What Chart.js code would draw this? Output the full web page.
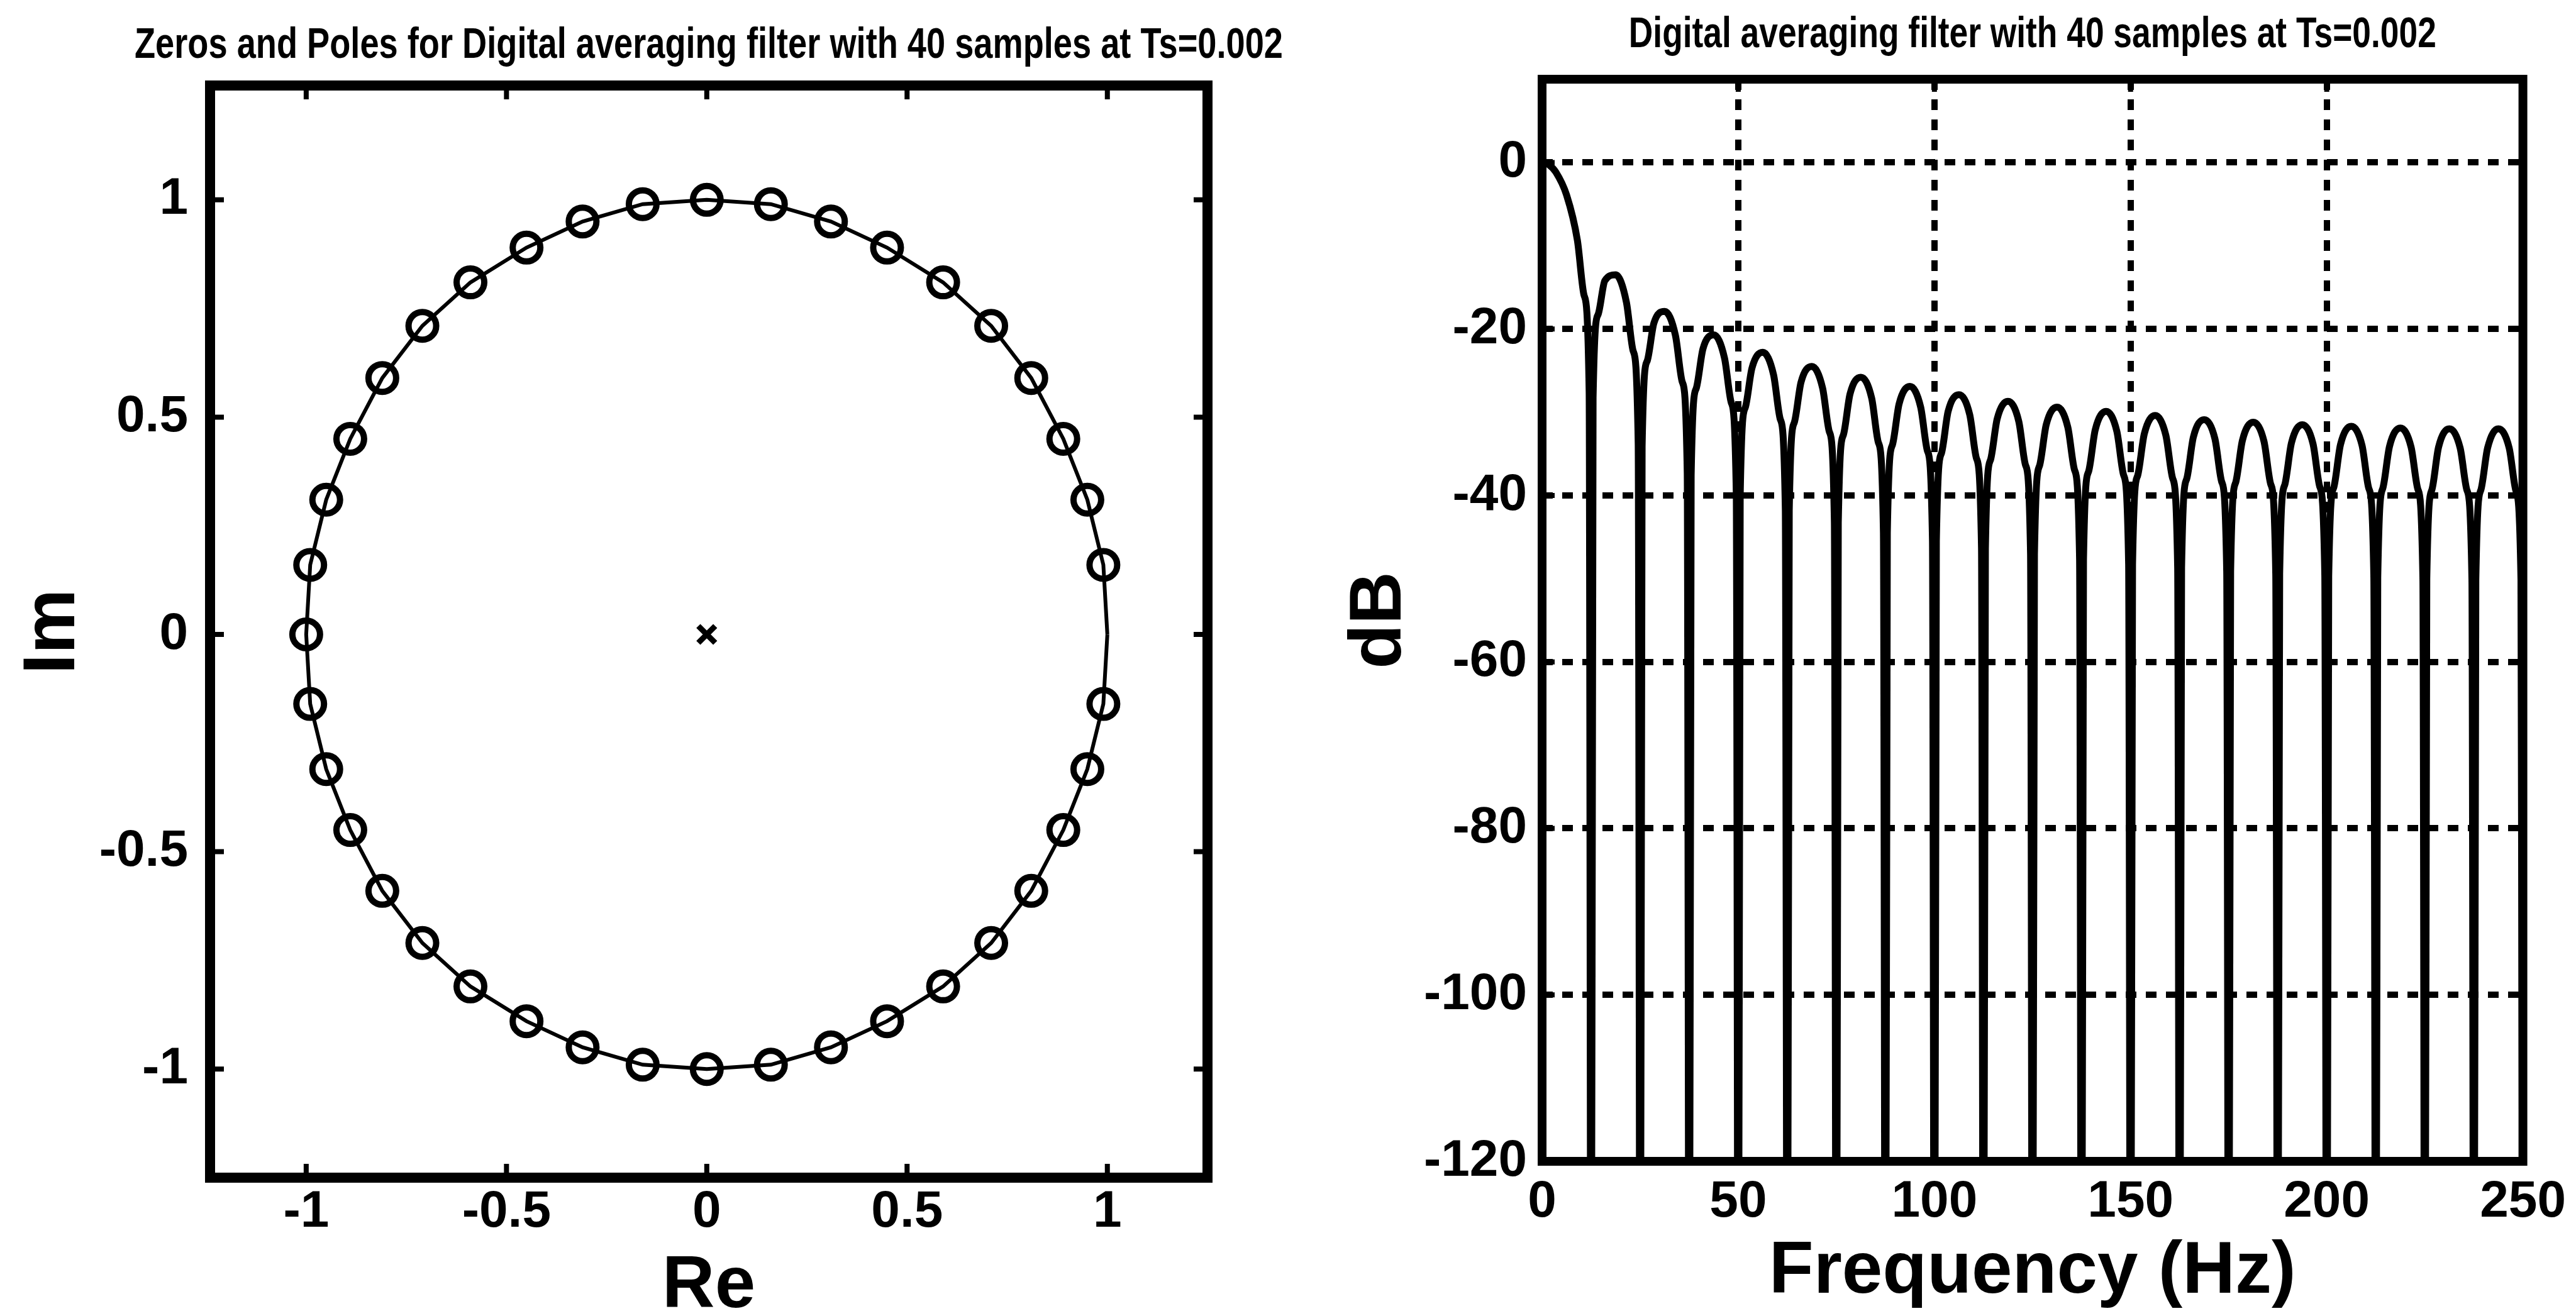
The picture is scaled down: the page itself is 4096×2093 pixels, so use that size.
<!DOCTYPE html>
<html>
<head>
<meta charset="utf-8">
<title>Digital averaging filter with 40 samples</title>
<script src="https://cdn.jsdelivr.net/npm/chart.js@4.4.1/dist/chart.umd.min.js"></script>
<style>
    html, body { margin: 0; padding: 0; background: #fff; overflow: hidden; }
    canvas { position: absolute; top: 0; }
</style>
</head>
<body>
<canvas id="zplane" width="2048" height="2093" style="left:0"></canvas>
<canvas id="response" width="2048" height="2093" style="left:2048px"></canvas>
<script>
// zeros of the averaging filter, read off the z-plane (z = 1 itself is not a zero)
const zerosRe = [0.99, 0.95, 0.89, 0.81, 0.71, 0.59, 0.45, 0.31, 0.16, 0.00,
    -0.16, -0.31, -0.45, -0.59, -0.71, -0.81, -0.89, -0.95, -0.99, -1.00,
    -0.99, -0.95, -0.89, -0.81, -0.71, -0.59, -0.45, -0.31, -0.16, 0.00,
    0.16, 0.31, 0.45, 0.59, 0.71, 0.81, 0.89, 0.95, 0.99];
const zerosIm = [0.16, 0.31, 0.45, 0.59, 0.71, 0.81, 0.89, 0.95, 0.99, 1.00,
    0.99, 0.95, 0.89, 0.81, 0.71, 0.59, 0.45, 0.31, 0.16, 0.00,
    -0.16, -0.31, -0.45, -0.59, -0.71, -0.81, -0.89, -0.95, -0.99, -1.00,
    -0.99, -0.95, -0.89, -0.81, -0.71, -0.59, -0.45, -0.31, -0.16];
const polesRe = [0];
const polesIm = [0];
const circleStart = [1, 0];   // the unit circle line also passes z = 1

const zTicks = [-1, -0.5, 0, 0.5, 1];
const zTickLabels = ['-1', '-0.5', '0', '0.5', '1'];

// magnitude response, dB (nulls go far below the -120 floor)
const freqHz = [
    0, 0.5, 1.75, 3.5, 6.25, 9, 10.75, 12,
    12.5, 13, 14.25, 16, 18.75, 21.5, 23.25, 24.5,
    25, 25.5, 26.75, 28.5, 31.25, 34, 35.75, 37,
    37.5, 38, 39.25, 41, 43.75, 46.5, 48.25, 49.5,
    50, 50.5, 51.75, 53.5, 56.25, 59, 60.75, 62,
    62.5, 63, 64.25, 66, 68.75, 71.5, 73.25, 74.5,
    75, 75.5, 76.75, 78.5, 81.25, 84, 85.75, 87,
    87.5, 88, 89.25, 91, 93.75, 96.5, 98.25, 99.5,
    100, 100.5, 101.75, 103.5, 106.25, 109, 110.75, 112,
    112.5, 113, 114.25, 116, 118.75, 121.5, 123.25, 124.5,
    125, 125.5, 126.75, 128.5, 131.25, 134, 135.75, 137,
    137.5, 138, 139.25, 141, 143.75, 146.5, 148.25, 149.5,
    150, 150.5, 151.75, 153.5, 156.25, 159, 160.75, 162,
    162.5, 163, 164.25, 166, 168.75, 171.5, 173.25, 174.5,
    175, 175.5, 176.75, 178.5, 181.25, 184, 185.75, 187,
    187.5, 188, 189.25, 191, 193.75, 196.5, 198.25, 199.5,
    200, 200.5, 201.75, 203.5, 206.25, 209, 210.75, 212,
    212.5, 213, 214.25, 216, 218.75, 221.5, 223.25, 224.5,
    225, 225.5, 226.75, 228.5, 231.25, 234, 235.75, 237,
    237.5, 238, 239.25, 241, 243.75, 246.5, 248.25, 249.5,
    250];
const magDb = [
    0, -0.02, -0.28, -1.15, -3.92, -9.35, -16.04, -27.6,
    -160, -28.3, -18.3, -14.2, -13.5, -16.8, -22.7, -33.8,
    -160, -34.1, -23.9, -19.3, -17.9, -20.8, -26.4, -37.3,
    -160, -37.6, -27.2, -22.4, -20.7, -23.5, -28.9, -39.8,
    -160, -40.0, -29.5, -24.7, -22.8, -25.5, -30.9, -41.7,
    -160, -41.8, -31.3, -26.4, -24.5, -27.1, -32.4, -43.2,
    -160, -43.3, -32.8, -27.8, -25.8, -28.3, -33.7, -44.4,
    -160, -44.5, -34.0, -29.0, -26.9, -29.4, -34.7, -45.4,
    -160, -45.5, -35.0, -29.9, -27.9, -30.3, -35.6, -46.3,
    -160, -46.4, -35.8, -30.8, -28.7, -31.1, -36.4, -47.0,
    -160, -47.1, -36.5, -31.5, -29.4, -31.8, -37.0, -47.7,
    -160, -47.7, -37.2, -32.1, -29.9, -32.3, -37.6, -48.2,
    -160, -48.3, -37.7, -32.6, -30.4, -32.8, -38.0, -48.7,
    -160, -48.7, -38.1, -33.0, -30.9, -33.2, -38.4, -49.1,
    -160, -49.1, -38.5, -33.4, -31.2, -33.5, -38.7, -49.4,
    -160, -49.4, -38.8, -33.7, -31.5, -33.8, -39.0, -49.6,
    -160, -49.7, -39.1, -33.9, -31.7, -34.0, -39.2, -49.8,
    -160, -49.9, -39.2, -34.1, -31.9, -34.2, -39.3, -50.0,
    -160, -50.0, -39.4, -34.2, -32.0, -34.3, -39.4, -50.1,
    -160, -50.1, -39.4, -34.3, -32.0, -34.3, -39.5, -50.1,
    -160];

const freqTicks = [0, 50, 100, 150, 200, 250];
const dbTicks = [-120, -100, -80, -60, -40, -20, 0];

const zTitle = 'Zeros and Poles for Digital averaging filter with 40 samples at Ts=0.002';
const respTitle = 'Digital averaging filter with 40 samples at Ts=0.002';

const narrow = "'Liberation Sans Narrow', 'Liberation Sans', Arial, sans-serif";
const wide = "'Liberation Sans', Arial, sans-serif";

Chart.defaults.color = '#000';
Chart.defaults.font.family = narrow;
Chart.defaults.font.weight = 'bold';

// box round the plot with matlab style ticks pointing inwards
const framePlugin = {
    id: 'frame',
    afterDatasetsDraw(chart, args, opts) {
        const {ctx, chartArea: {left, right, top, bottom}, scales: {x, y}} = chart;
        ctx.save();
        ctx.strokeStyle = '#000';
        ctx.lineWidth = opts.tickWidth;
        ctx.beginPath();
        x.ticks.forEach(t => {
            const px = x.getPixelForValue(t.value);
            ctx.moveTo(px, bottom); ctx.lineTo(px, bottom - opts.tickLength);
            ctx.moveTo(px, top); ctx.lineTo(px, top + opts.tickLength);
        });
        y.ticks.forEach(t => {
            const py = y.getPixelForValue(t.value);
            ctx.moveTo(left, py); ctx.lineTo(left + opts.tickLength, py);
            ctx.moveTo(right, py); ctx.lineTo(right - opts.tickLength, py);
        });
        ctx.stroke();
        ctx.lineWidth = opts.width;
        ctx.strokeRect(left, top, right - left, bottom - top);
        ctx.restore();
    }
};

// title centred over the plot box, squeezed like the scanned original
const titlePlugin = {
    id: 'plotTitle',
    afterDraw(chart, args, opts) {
        const {ctx, chartArea: {left, right}} = chart;
        ctx.save();
        ctx.font = 'bold ' + opts.size + 'px ' + narrow;
        ctx.fillStyle = '#000';
        ctx.textAlign = 'center';
        ctx.textBaseline = 'alphabetic';
        ctx.fillText(opts.text, (left + right) / 2, opts.baseline, opts.width);
        ctx.restore();
    }
};

const zplaneChart = new Chart(document.getElementById('zplane'), {
    type: 'scatter',
    data: {
        datasets: [
            {
                label: 'poles',
                data: polesRe.map((v, i) => ({x: v, y: polesIm[i]})),
                pointStyle: 'crossRot',
                pointRadius: 19,
                pointBorderWidth: 9,
                pointBorderColor: '#000'
            },
            {
                label: 'zeros',
                data: zerosRe.map((v, i) => ({x: v, y: zerosIm[i]})),
                pointStyle: 'circle',
                pointRadius: 22,
                pointBorderWidth: 10,
                pointBorderColor: '#000',
                pointBackgroundColor: 'rgba(0,0,0,0)'
            },
            {
                label: 'unit circle',
                data: [circleStart[0], ...zerosRe, circleStart[0]].map((v, i) => ({
                    x: v,
                    y: [circleStart[1], ...zerosIm, circleStart[1]][i]
                })),
                showLine: true,
                borderColor: '#000',
                borderWidth: 6,
                pointRadius: 0
            }
        ]
    },
    options: {
        responsive: false,
        animation: false,
        events: [],
        layout: {padding: {top: 136, right: 128, left: 0, bottom: 0}},
        plugins: {
            legend: {display: false},
            tooltip: {enabled: false},
            frame: {width: 16, tickLength: 22, tickWidth: 8},
            plotTitle: {text: zTitle, size: 68, baseline: 92, width: 1826}
        },
        scales: {
            x: {
                type: 'linear',
                min: -1.24,
                max: 1.25,
                afterBuildTicks: s => { s.ticks = zTicks.map(v => ({value: v})); },
                afterFit: s => { s.height = 220; },
                grid: {display: false, drawTicks: false},
                border: {display: false},
                ticks: {
                    font: {size: 82},
                    padding: 6,
                    maxRotation: 0,
                    callback: v => zTickLabels[zTicks.indexOf(v)]
                },
                title: {
                    display: true,
                    text: 'Re',
                    font: {size: 116, family: wide, lineHeight: 0.8},
                    padding: {top: 0, bottom: 0}
                }
            },
            y: {
                type: 'linear',
                min: -1.25,
                max: 1.263,
                afterBuildTicks: s => { s.ticks = zTicks.map(v => ({value: v})); },
                afterFit: s => { s.width = 334; },
                grid: {display: false, drawTicks: false},
                border: {display: false},
                ticks: {
                    font: {size: 82},
                    padding: 35,
                    callback: v => zTickLabels[zTicks.indexOf(v)]
                },
                title: {
                    display: true,
                    text: 'Im',
                    font: {size: 116, family: wide, lineHeight: 1},
                    padding: {top: 28, bottom: 0}
                }
            }
        }
    },
    plugins: [framePlugin, titlePlugin]
});

const responseChart = new Chart(document.getElementById('response'), {
    type: 'line',
    data: {
        datasets: [{
            label: 'dB',
            data: freqHz.map((f, i) => ({x: f, y: magDb[i]})),
            borderColor: '#000',
            borderWidth: 11,
            pointRadius: 0,
            fill: false,
            cubicInterpolationMode: 'monotone'
        }]
    },
    options: {
        responsive: false,
        animation: false,
        events: [],
        layout: {padding: {top: 126, right: 75, left: 0, bottom: 0}},
        plugins: {
            legend: {display: false},
            tooltip: {enabled: false},
            frame: {width: 14, tickLength: 20, tickWidth: 8},
            plotTitle: {text: respTitle, size: 68, baseline: 75, width: 1284}
        },
        scales: {
            x: {
                type: 'linear',
                min: 0,
                max: 250,
                afterBuildTicks: s => { s.ticks = freqTicks.map(v => ({value: v})); },
                afterFit: s => { s.height = 246; },
                grid: {color: '#000', lineWidth: 10, drawTicks: false},
                border: {display: false, dash: [17, 15]},
                ticks: {font: {size: 82}, padding: 16, maxRotation: 0},
                title: {
                    display: true,
                    text: 'Frequency (Hz)',
                    font: {size: 116, family: wide, lineHeight: 0.8},
                    padding: {top: 0, bottom: 23}
                }
            },
            y: {
                type: 'linear',
                min: -120,
                max: 10,
                afterBuildTicks: s => { s.ticks = dbTicks.map(v => ({value: v})); },
                afterFit: s => { s.width = 404; },
                grid: {color: '#000', lineWidth: 10, drawTicks: false},
                border: {display: false, dash: [17, 15]},
                ticks: {font: {size: 82}, padding: 24},
                title: {
                    display: true,
                    text: 'dB',
                    font: {size: 116, family: wide, lineHeight: 1},
                    padding: {top: 89, bottom: 0}
                }
            }
        }
    },
    plugins: [framePlugin, titlePlugin]
});
</script>
</body>
</html>
